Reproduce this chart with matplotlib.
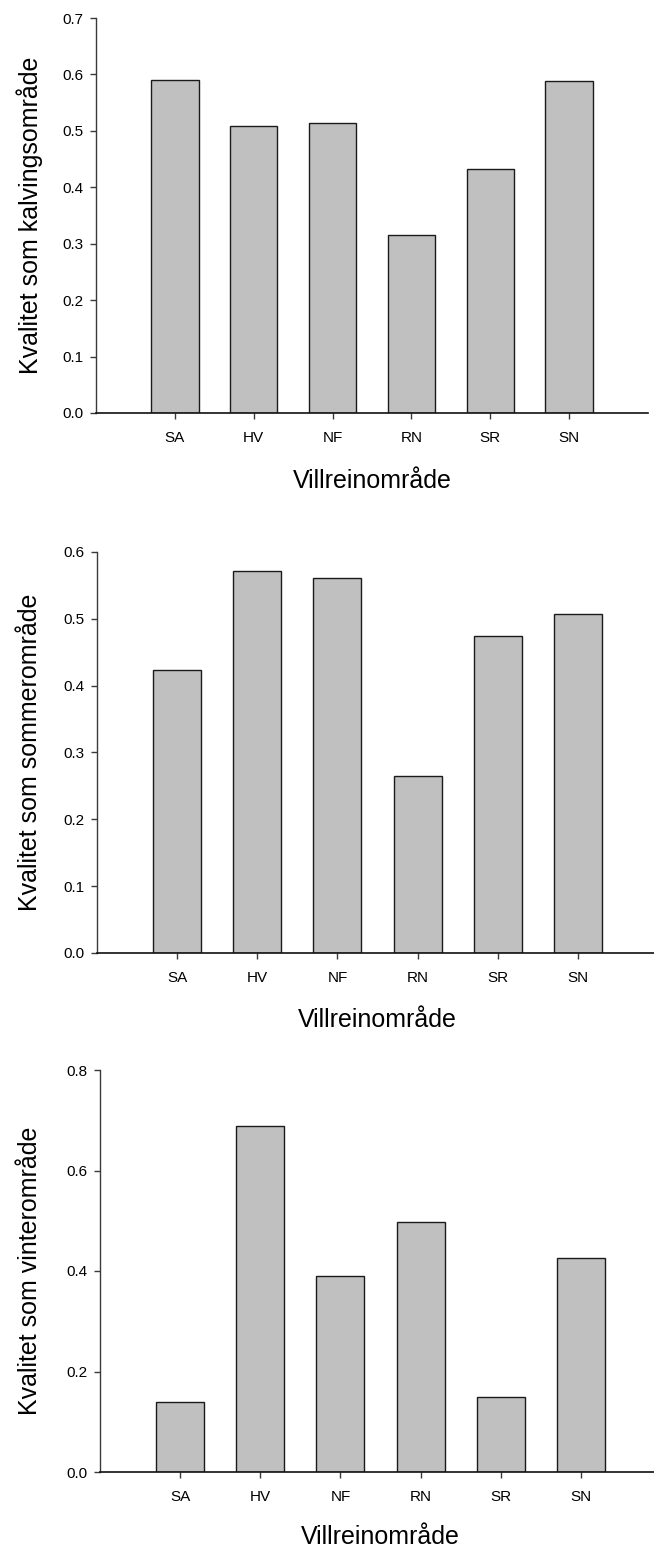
import matplotlib
matplotlib.use("Agg")
import matplotlib.pyplot as plt
from matplotlib.transforms import IdentityTransform

plt.rcParams['font.family'] = ['Liberation Sans', 'DejaVu Sans']

# areas (same order in all three panels)
omrader = ["SA", "HV", "NF", "RN", "SR", "SN"]

# quality per area
kalving = [0.590, 0.508, 0.514, 0.316, 0.433, 0.589]
sommer = [0.423, 0.571, 0.561, 0.265, 0.474, 0.507]
vinter = [0.140, 0.688, 0.390, 0.497, 0.149, 0.425]

ylabels = ["Kvalitet som kalvingsområde",
           "Kvalitet som sommerområde",
           "Kvalitet som vinterområde"]
yticks = [[0.0, 0.1, 0.2, 0.3, 0.4, 0.5, 0.6, 0.7],
          [0.0, 0.1, 0.2, 0.3, 0.4, 0.5, 0.6],
          [0.0, 0.2, 0.4, 0.6, 0.8]]
xlabel = "Villreinområde"

W, H = 654, 1551
fig = plt.figure(figsize=(W / 100, H / 100), dpi=100)

# axes boxes in pixels: left, top, right, bottom  (top = pixel row of y max)
boxes = [(96, 18, 648, 413),
         (97, 552, 658, 953),
         (100, 1070, 661, 1472)]
xlabel_base = [488, 1027, 1544]


def px(x, y):
    return x / W, 1 - y / H


def make_panel(box, values, ylab, ticks, xl_y):
    l, t, r, b = box
    x0, y1 = px(l, t)
    x1, y0 = px(r, b)
    ax = fig.add_axes([x0, y0, x1 - x0, y1 - y0])
    pos = list(range(len(omrader)))
    ax.bar(pos, values, width=0.6, color="#c0c0c0",
           edgecolor="#1a1a1a", linewidth=1.0)
    ax.set_xlim(-1, len(omrader))
    ax.set_ylim(0, ticks[-1])
    ax.set_yticks(ticks)
    ax.set_yticklabels(["%.1f" % v for v in ticks])
    ax.set_xticks(pos)
    ax.set_xticklabels(omrader)
    for s in ("top", "right"):
        ax.spines[s].set_visible(False)
    ax.spines["left"].set_color("#3a3a3a")
    ax.spines["bottom"].set_color("#111111")
    ax.spines["left"].set_linewidth(1.0)
    ax.spines["bottom"].set_linewidth(1.2)
    ax.tick_params(axis="both", direction="out", length=4, width=1,
                   color="#3a3a3a", labelsize=11)
    ax.tick_params(axis="x", pad=9)
    ax.tick_params(axis="y", pad=5)

    # labels placed in figure pixels
    ax.set_ylabel(ylab, fontsize=18, va="center", ha="center")
    ax.yaxis.set_label_coords(30, H - (t + b) / 2, transform=IdentityTransform())
    ax.set_xlabel(xlabel, fontsize=18, va="baseline", ha="center")
    ax.xaxis.set_label_coords((l + r) / 2, H - xl_y, transform=IdentityTransform())
    return ax


for box, vals, lab, tk, xy in zip(boxes, [kalving, sommer, vinter], ylabels, yticks, xlabel_base):
    make_panel(box, vals, lab, tk, xy)

fig.savefig("out.png", dpi=100)
